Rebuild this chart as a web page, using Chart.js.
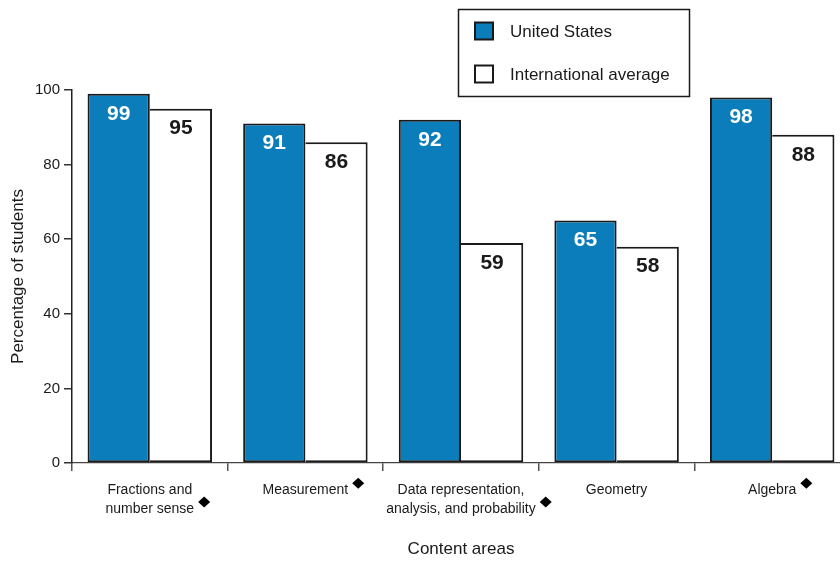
<!DOCTYPE html>
<html>
<head>
<meta charset="utf-8">
<title>Content areas</title>
<script src="https://cdn.jsdelivr.net/npm/chart.js@4.4.1/dist/chart.umd.min.js"></script>
<style>
  html, body { margin: 0; padding: 0; background: #fff; overflow: hidden; }
  #wrap { position: relative; width: 850px; height: 563px; }
</style>
</head>
<body>
<div id="wrap"><canvas id="chart" width="850" height="563"></canvas></div>
<script>
const categories = [
    ['Fractions and', 'number sense'],
    ['Measurement'],
    ['Data representation,', 'analysis, and probability'],
    ['Geometry'],
    ['Algebra']
];
// diamond marker after the category name
const flagged = [true, true, true, false, true];
const usValues = [99, 91, 92, 65, 98];
const intlValues = [95, 86, 59, 58, 88];
const seriesNames = ['United States', 'International average'];
const yTicks = [0, 20, 40, 60, 80, 100];

const FONT = "'Liberation Sans', Arial, sans-serif";
const BLUE = '#0a7dba';
const INK = '#1a1a1a';
const LABEL_SIZE = 14;
const LABEL_LINE = 18.7;
const LABEL_PAD = 10;

const barValueLabels = {
    id: 'barValueLabels',
    afterDatasetsDraw(chart) {
        const ctx = chart.ctx;
        ctx.save();
        ctx.font = 'bold 21px ' + FONT;
        ctx.textAlign = 'center';
        ctx.textBaseline = 'middle';
        chart.data.datasets.forEach((ds, i) => {
            const meta = chart.getDatasetMeta(i);
            ctx.fillStyle = i === 0 ? '#ffffff' : INK;
            meta.data.forEach((bar, j) => {
                ctx.fillText(String(ds.data[j]), bar.x, bar.y + 20);
            });
        });
        ctx.restore();
    }
};

const diamonds = {
    id: 'diamonds',
    afterDraw(chart) {
        const ctx = chart.ctx;
        const scale = chart.scales.x;
        ctx.save();
        ctx.font = LABEL_SIZE + 'px ' + FONT;
        ctx.fillStyle = '#000';
        categories.forEach((lines, i) => {
            if (!flagged[i]) return;
            const last = lines[lines.length - 1];
            const w = ctx.measureText(last).width;
            const cx = scale.getPixelForTick(i) + w / 2 + 10;
            const cy = scale.top + 8 + LABEL_PAD + LABEL_LINE / 2 + (lines.length - 1) * LABEL_LINE - 7;
            ctx.beginPath();
            ctx.moveTo(cx, cy - 5.5);
            ctx.lineTo(cx + 6, cy);
            ctx.lineTo(cx, cy + 5.5);
            ctx.lineTo(cx - 6, cy);
            ctx.closePath();
            ctx.fill();
        });
        ctx.restore();
    }
};

const boxLegend = {
    id: 'boxLegend',
    afterDraw(chart) {
        const ctx = chart.ctx;
        ctx.save();
        ctx.lineWidth = 1.5;
        ctx.strokeStyle = INK;
        ctx.fillStyle = '#fff';
        ctx.fillRect(458.5, 9.5, 231, 87);
        ctx.strokeRect(458.5, 9.5, 231, 87);
        ctx.font = '17px ' + FONT;
        ctx.textBaseline = 'middle';
        chart.data.datasets.forEach((ds, i) => {
            const y = 31 + i * 43;
            ctx.fillStyle = ds.backgroundColor;
            ctx.fillRect(475, y - 8.5, 18, 17);
            ctx.lineWidth = 2;
            ctx.strokeStyle = INK;
            ctx.strokeRect(475, y - 8.5, 18, 17);
            ctx.fillStyle = INK;
            ctx.fillText(ds.label, 510, y + 1);
        });
        ctx.restore();
    }
};

new Chart(document.getElementById('chart'), {
    type: 'bar',
    data: {
        labels: categories,
        datasets: [
            {
                label: seriesNames[0],
                data: usValues,
                backgroundColor: BLUE,
                borderColor: INK,
                borderWidth: 2,
                borderSkipped: false,
                categoryPercentage: 0.8,
                barPercentage: 1.0
            },
            {
                label: seriesNames[1],
                data: intlValues,
                backgroundColor: '#ffffff',
                borderColor: INK,
                // left edge is shared with the blue bar's outline
                borderWidth: { top: 2, left: 0, right: 2, bottom: 2 },
                borderSkipped: false,
                categoryPercentage: 0.8,
                barPercentage: 1.0
            }
        ]
    },
    options: {
        responsive: false,
        maintainAspectRatio: false,
        animation: false,
        devicePixelRatio: 1,
        layout: { padding: { top: 90, right: 0, left: 0, bottom: 0 } },
        plugins: {
            legend: { display: false },
            tooltip: { enabled: false }
        },
        scales: {
            x: {
                grid: {
                    drawOnChartArea: false,
                    drawTicks: true,
                    tickLength: 8,
                    color: '#555',
                    lineWidth: 1.5
                },
                border: { color: '#444', width: 1.2 },
                ticks: {
                    color: INK,
                    padding: LABEL_PAD,
                    maxRotation: 0,
                    autoSkip: false,
                    font: { family: FONT, size: LABEL_SIZE, lineHeight: LABEL_LINE / LABEL_SIZE }
                },
                title: {
                    display: true,
                    text: 'Content areas',
                    color: INK,
                    padding: { top: 0, bottom: 3 },
                    font: { family: FONT, size: 17 }
                },
                afterFit(scale) { scale.height = 100; }
            },
            y: {
                min: 0,
                max: 100,
                afterBuildTicks(scale) { scale.ticks = yTicks.map(v => ({ value: v })); },
                grid: {
                    drawOnChartArea: false,
                    drawTicks: true,
                    tickLength: 8,
                    color: '#333',
                    lineWidth: 1.5
                },
                border: { color: '#222', width: 1.5 },
                ticks: {
                    color: INK,
                    padding: 4,
                    font: { family: FONT, size: 15 }
                },
                title: {
                    display: true,
                    text: 'Percentage of students',
                    color: INK,
                    padding: { top: 8, bottom: 0 },
                    font: { family: FONT, size: 17 }
                },
                afterFit(scale) { scale.width = 72; }
            }
        }
    },
    plugins: [barValueLabels, diamonds, boxLegend]
});
</script>
</body>
</html>
